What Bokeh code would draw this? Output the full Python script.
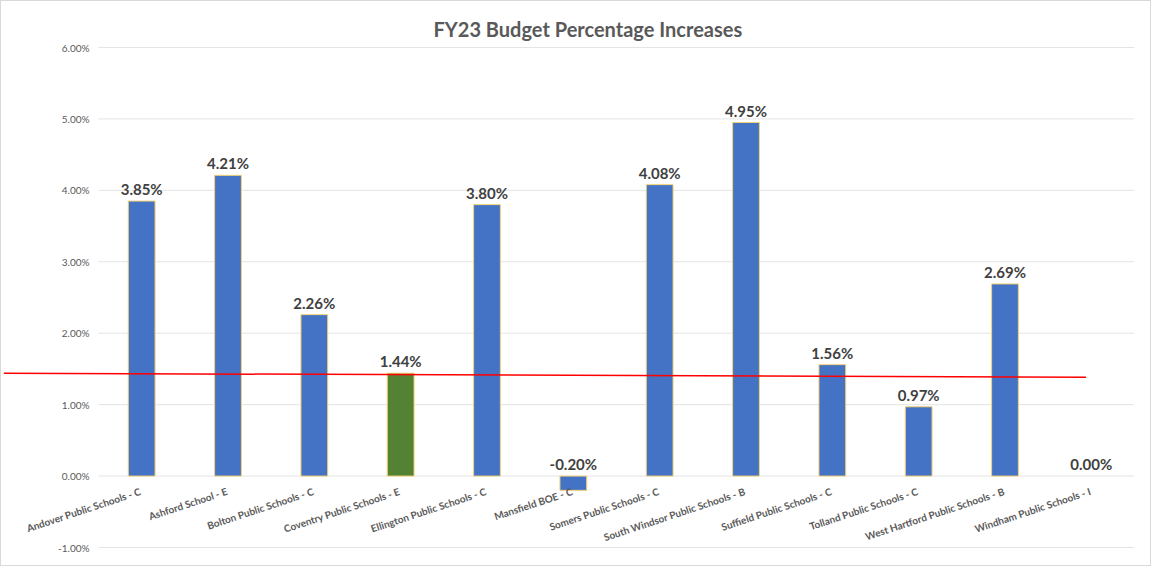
from bokeh.plotting import figure
from bokeh.models import ColumnDataSource, Range1d, Title
from bokeh.embed import file_html
from bokeh.resources import INLINE
from bokeh.core.properties import value

schools = ["Andover Public Schools - C", "Ashford School - E", "Bolton Public Schools - C",
           "Coventry Public Schools - E", "Ellington Public Schools - C", "Mansfield BOE - C",
           "Somers Public Schools - C", "South Windsor Public Schools - B", "Suffield Public Schools - C",
           "Tolland Public Schools - C", "West Hartford Public Schools - B", "Windham Public Schools - I"]
increases = [3.85, 4.21, 2.26, 1.44, 3.80, -0.20, 4.08, 4.95, 1.56, 0.97, 2.69, 0.00]
highlight = "Coventry Public Schools - E"
ref_line_end_x = 10.94
ref_line_y = [1.44, 1.385]
y_ticks = [-1, 0, 1, 2, 3, 4, 5, 6]
y_tick_labels = ["%.2f%%" % t for t in y_ticks]

FONT = "Lato"
W, H = 1151, 566
FRAME_LEFT, GRID_LEFT, GRID_RIGHT = 2, 97, 1133
GRID_TOP, GRID_BOTTOM, PAD_PX = 46, 546, 7
n = len(schools)
cat_px = (GRID_RIGHT - GRID_LEFT) / n
x_lo, x_hi = -0.5, n - 0.5
x_start = x_lo - (GRID_LEFT - FRAME_LEFT) / cat_px
ppu = (GRID_BOTTOM - GRID_TOP) / (y_ticks[-1] - y_ticks[0])
y_pad = PAD_PX / ppu

xs = list(range(n))
colors = ["#548235" if s == highlight else "#4472C4" for s in schools]
outline_alpha = [0 if v == 0 else 1 for v in increases]
label_y = [max(v, 0) for v in increases]
labels = ["%.2f%%" % v for v in increases]

src = ColumnDataSource(dict(x=xs, top=increases, color=colors, la=outline_alpha, ly=label_y,
                            lab=labels, name=schools, zero=[0] * n))

p = figure(width=W, height=H, output_backend="svg", toolbar_location=None,
           x_range=Range1d(x_start, x_hi), y_range=Range1d(y_ticks[0] - y_pad, y_ticks[-1] + y_pad),
           min_border_left=FRAME_LEFT, min_border_right=W - GRID_RIGHT,
           min_border_top=GRID_TOP - PAD_PX, min_border_bottom=H - GRID_BOTTOM - PAD_PX)
p.styles = {"border": "1px solid #d9d9d9"}
p.title = Title(text="FY23 Budget Percentage Increases", align="left", offset=432 - FRAME_LEFT,
                text_font=FONT, text_font_size="20px", text_color="#595959", text_font_style="bold",
                standoff=0)
p.outline_line_color = None
p.xaxis.visible = False
p.yaxis.visible = False
p.grid.grid_line_color = None

# gridlines and y tick labels
p.segment(x0=[x_lo] * len(y_ticks), x1=[x_hi] * len(y_ticks), y0=y_ticks, y1=y_ticks,
          line_color="#e4e4e4", line_width=1)
p.text(x=[x_lo] * len(y_ticks), y=y_ticks, text=y_tick_labels, x_offset=-9, text_align="right",
       text_baseline="middle", text_font=value(FONT), text_font_size="10px", text_color="#595959")

p.vbar(x="x", top="top", bottom=0, width=0.31, fill_color="color", line_color="#F2D275",
       line_alpha="la", line_width=1, source=src)
p.line([x_start, ref_line_end_x], ref_line_y, line_color="#FF0000", line_width=1.5)
p.text(x="x", y="ly", text="lab", source=src, text_align="center", text_baseline="bottom",
       y_offset=-3, text_font=value(FONT), text_font_size="15px", text_font_style="bold",
       text_color="#404040")

# category labels
p.text(x="x", y="zero", text="name", source=src, angle=0.32, text_align="right",
       text_baseline="top", x_offset=-3, y_offset=9, text_font=value(FONT), text_font_size="10px",
       text_font_style="bold", text_color="#595959")

open("out.html", "w").write(file_html(p, INLINE))
